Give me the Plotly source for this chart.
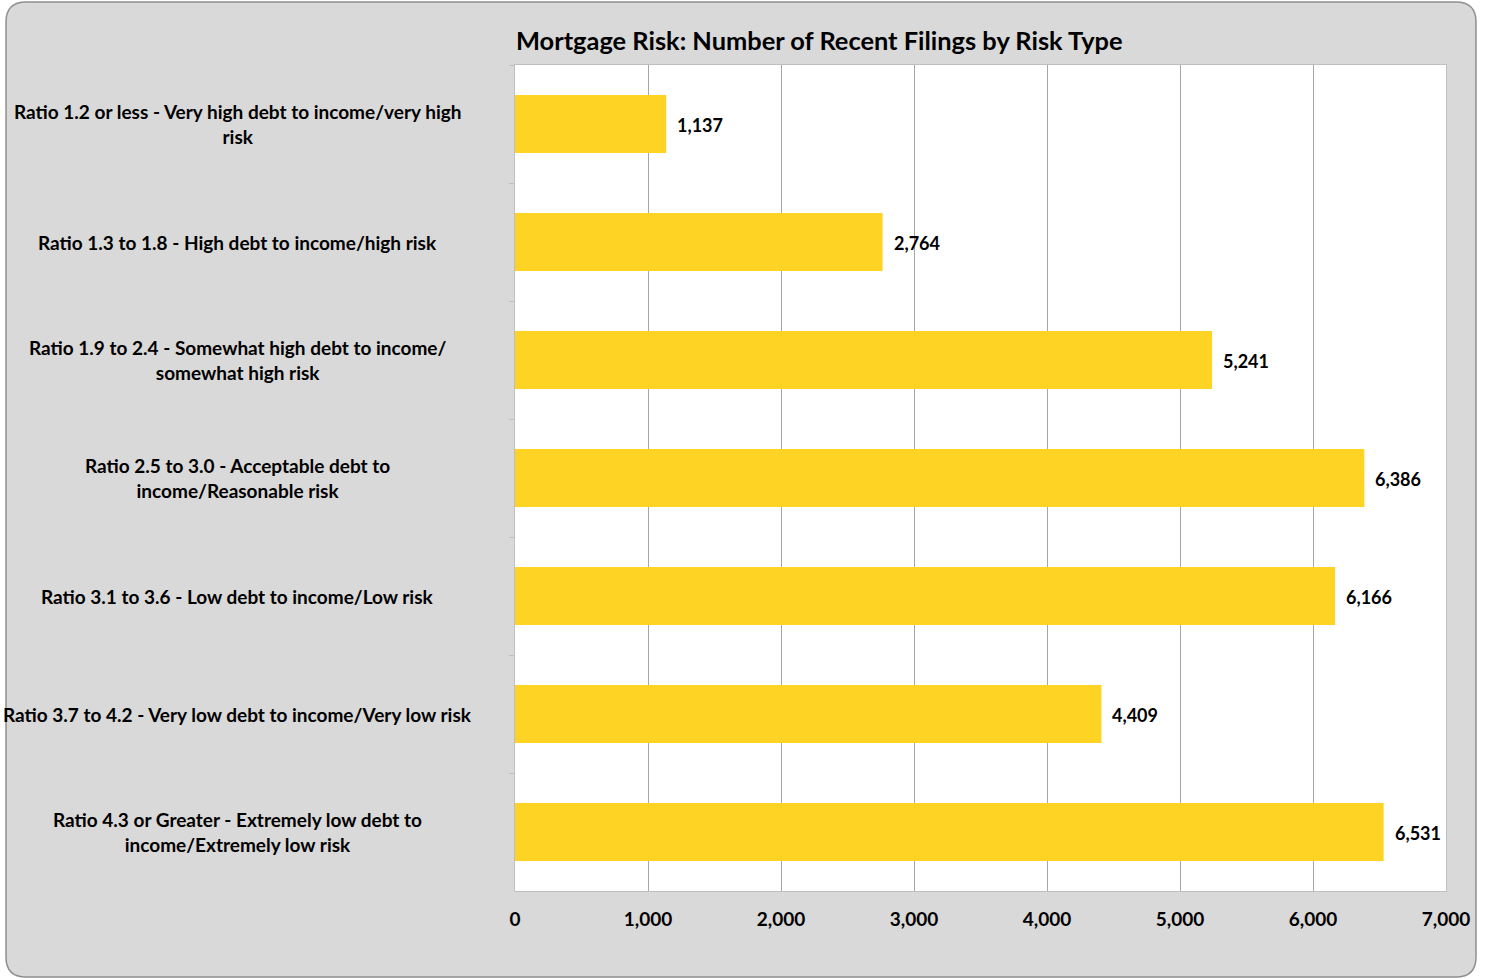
import plotly.graph_objects as go

categories = [
    "Ratio 1.2 or less - Very high debt to income/very high risk",
    "Ratio 1.3 to 1.8 - High debt to income/high risk",
    "Ratio 1.9 to 2.4 - Somewhat high debt to income/somewhat high risk",
    "Ratio 2.5 to 3.0 - Acceptable debt to income/Reasonable risk",
    "Ratio 3.1 to 3.6 - Low debt to income/Low risk",
    "Ratio 3.7 to 4.2 - Very low debt to income/Very low risk",
    "Ratio 4.3 or Greater - Extremely low debt to income/Extremely low risk",
]
display_labels = [
    "Ratio 1.2 or less - Very high debt to income/very high<br>risk",
    "Ratio 1.3 to 1.8 - High debt to income/high risk",
    "Ratio 1.9 to 2.4 - Somewhat high debt to income/<br>somewhat high risk",
    "Ratio 2.5 to 3.0 - Acceptable debt to<br>income/Reasonable risk",
    "Ratio 3.1 to 3.6 - Low debt to income/Low risk",
    "Ratio 3.7 to 4.2 - Very low debt to income/Very low risk",
    "Ratio 4.3 or Greater - Extremely low debt to<br>income/Extremely low risk",
]
values = [1137, 2764, 5241, 6386, 6166, 4409, 6531]
x_ticks = [0, 1000, 2000, 3000, 4000, 5000, 6000, 7000]
x_tick_labels = ["0", "1,000", "2,000", "3,000", "4,000", "5,000", "6,000", "7,000"]
title_text = "Mortgage Risk: Number of Recent Filings by Risk Type"

FONT = "Lato"
W, H = 1485, 978
ML, MR, MT, MB = 515, 39, 65, 87
PW, PH = W - ML - MR, H - MT - MB


def px(x):
    return (x - ML) / PW


def py(y):
    return (H - MB - y) / PH


fig = go.Figure()
fig.add_trace(go.Bar(
    x=values, y=categories, orientation="h",
    marker=dict(color="#FFD324", line=dict(width=0)),
    width=0.49, hoverinfo="x+y",
))

annotations = []
for c, v in zip(categories, values):
    annotations.append(dict(
        x=v, y=c, xref="x", yref="y", text=f"{v:,}", showarrow=False,
        xanchor="left", yanchor="middle", xshift=9, yshift=-1,
        font=dict(family=FONT, size=18, color="#000000", weight="bold"),
    ))
for c, lab in zip(categories, display_labels):
    annotations.append(dict(
        x=px(237), y=c, xref="paper", yref="y", text=lab, showarrow=False,
        xanchor="center", yanchor="middle", align="center",
        font=dict(family=FONT, size=19, color="#000000", weight="bold"),
    ))

# rounded background
x0, x1, y0, y1 = 6, 1476, 2, 977
r = 20
path = (
    f"M {px(x0 + r)} {py(y0)} L {px(x1 - r)} {py(y0)} "
    f"Q {px(x1)} {py(y0)} {px(x1)} {py(y0 + r)} "
    f"L {px(x1)} {py(y1 - r)} Q {px(x1)} {py(y1)} {px(x1 - r)} {py(y1)} "
    f"L {px(x0 + r)} {py(y1)} Q {px(x0)} {py(y1)} {px(x0)} {py(y1 - r)} "
    f"L {px(x0)} {py(y0 + r)} Q {px(x0)} {py(y0)} {px(x0 + r)} {py(y0)} Z"
)
shapes = [
    dict(type="path", path=path, xref="paper", yref="paper", layer="below",
         fillcolor="#D9D9D9", line=dict(color="#8F8F8F", width=1.5)),
    dict(type="rect", x0=0, x1=1, y0=0, y1=1, xref="paper", yref="paper",
         layer="below", fillcolor="#FFFFFF", line=dict(width=0)),
]

fig.update_layout(
    width=W, height=H,
    margin=dict(l=ML, r=MR, t=MT, b=MB),
    paper_bgcolor="#FFFFFF",
    plot_bgcolor="rgba(0,0,0,0)",
    showlegend=False,
    title=dict(text=title_text, x=516 / W, xref="container", xanchor="left",
               y=1 - 41 / H, yref="container", yanchor="middle",
               font=dict(family=FONT, size=25.4, color="#000000", weight="bold")),
    xaxis=dict(range=[0, 7000], tickvals=x_ticks, ticktext=x_tick_labels,
               showgrid=True, gridcolor="#A6A6A6", gridwidth=1,
               zeroline=False, showline=True, linecolor="#BFBFBF", linewidth=1,
               mirror=True, ticks="", ticklabelstandoff=11,
               tickfont=dict(family=FONT, size=19, color="#000000", weight="bold")),
    xaxis2=dict(range=[0, 7000], tickvals=x_ticks, overlaying="x", side="top",
                anchor="y", showticklabels=False, ticks="outside", ticklen=5,
                tickcolor="#BFBFBF", showgrid=False, zeroline=False, showline=False),
    yaxis=dict(categoryorder="array", categoryarray=categories, autorange="reversed",
               showticklabels=False, ticks="outside", tickson="boundaries",
               ticklen=5, tickcolor="#BFBFBF", showgrid=False, zeroline=False,
               showline=True, linecolor="#BFBFBF", linewidth=1, mirror=True),
    annotations=annotations,
    shapes=shapes,
)

fig.write_html("out.html", config={"displayModeBar": False},
               post_script="document.body.style.margin='0';document.body.style.overflow='hidden';")
